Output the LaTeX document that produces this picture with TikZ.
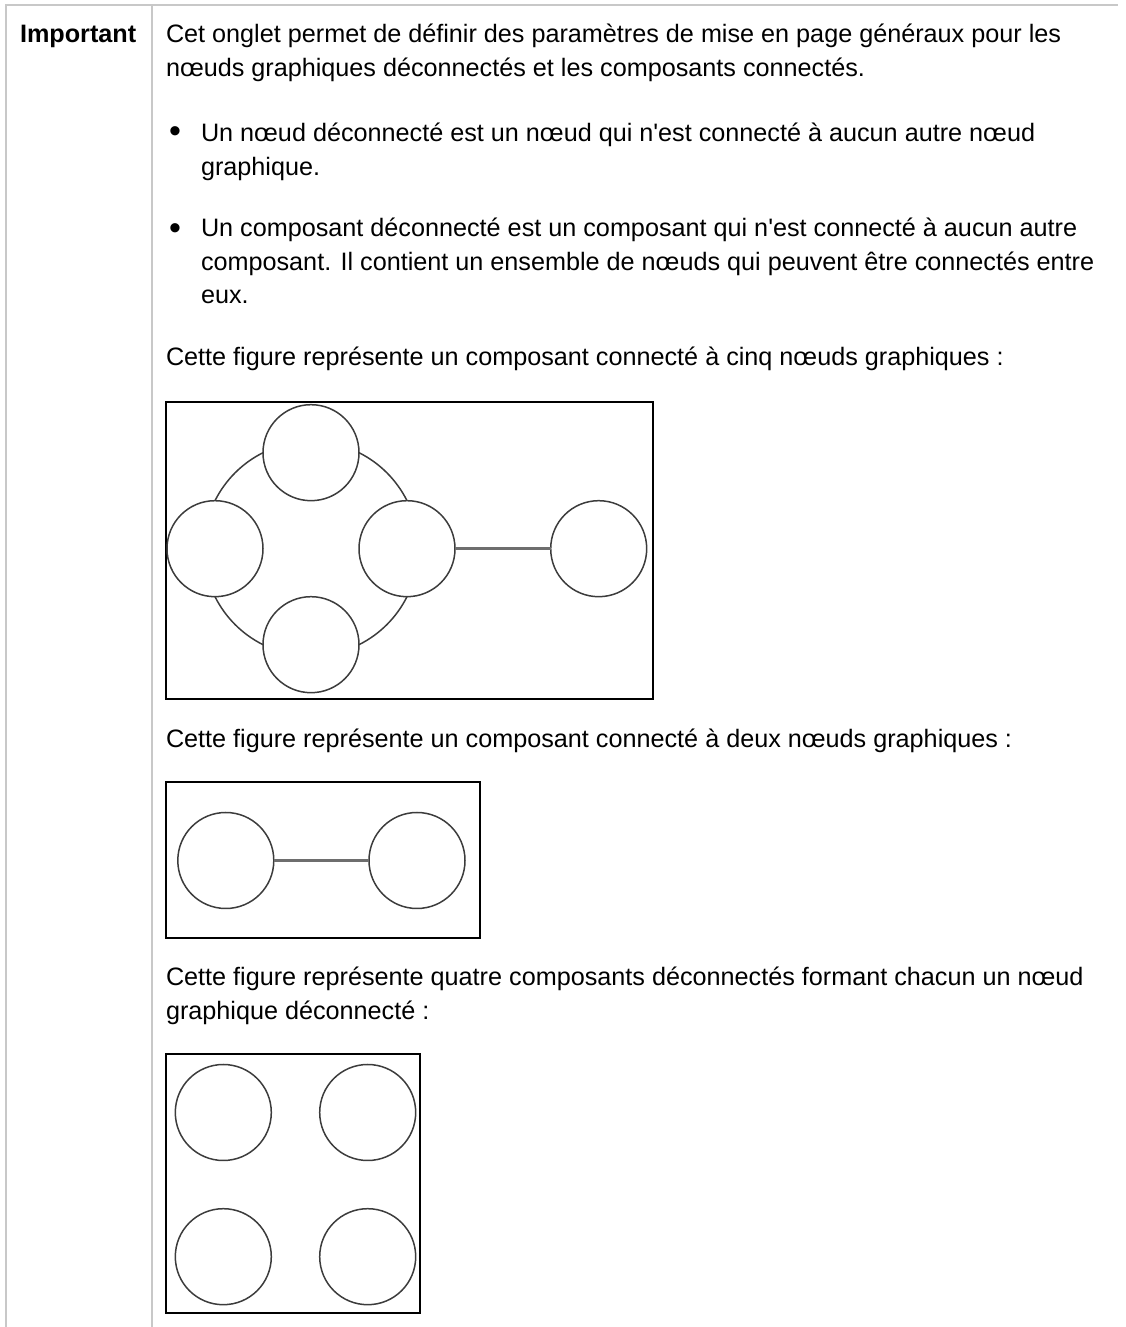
\documentclass[tikz,border=0pt]{standalone}
\usepackage{fontspec}
\setmainfont{Liberation Sans}[Ligatures=TeXOff]
\definecolor{tblgray}{RGB}{200,200,200}
\definecolor{circgray}{RGB}{60,60,60}
\definecolor{linkgray}{RGB}{110,110,110}
\begin{document}
\begin{tikzpicture}[x=1pt,y=1pt,
  txt/.style={anchor=base west,inner sep=0pt,outer sep=0pt,font=\fontsize{25.2}{33}\selectfont},
  bul/.style={anchor=center,inner sep=0pt,outer sep=0pt,font=\fontsize{34}{34}\selectfont},
  gnode/.style={circle,draw=circgray,line width=1.5pt,minimum size=96pt,inner sep=0pt,outer sep=0pt},
  figbox/.style={draw=black,line width=1.8pt},
  tline/.style={draw=tblgray,line width=2pt},
  ring/.style={draw=circgray,line width=1.5pt},
  link/.style={draw=linkgray,line width=2.4pt}]
\useasboundingbox (0,0) rectangle (1125,1327);
% table rules
\coordinate (tl) at (5,1322);
\coordinate (tr) at (1118,1322);
\coordinate (lt) at (6,1322);
\coordinate (lb) at (6,0);
\coordinate (dt) at (152,1322);
\coordinate (db) at (152,0);
\draw[tline] (tl) -- (tr);
\draw[tline] (lt) -- (lb);
\draw[tline] (dt) -- (db);
% header cell
\node[txt,font=\fontsize{25.2}{33}\selectfont\bfseries] (imp) at (20,1284) {Important};
% text
\node[txt] (l1) at (166,1284) {Cet onglet permet de définir des paramètres de mise en page généraux pour les};
\node[txt] (l2) at (166,1250) {nœuds graphiques déconnectés et les composants connectés.};
\node[bul] (b1) at (175,1192) {•};
\node[txt] (l3) at (201,1185) {Un nœud déconnecté est un nœud qui n'est connecté à aucun autre nœud};
\node[txt] (l4) at (201,1151.5) {graphique.};
\node[bul] (b2) at (175,1095.3) {•};
\node[txt] (l5) at (201,1090) {Un composant déconnecté est un composant qui n'est connecté à aucun autre};
\node[txt] (l6) at (201,1056.5) {composant. Il contient un ensemble de nœuds qui peuvent être connectés entre};
\node[txt] (l7) at (201,1023) {eux.};
\node[txt] (l8) at (166,961) {Cette figure représente un composant connecté à cinq nœuds graphiques :};
\node[txt] (l9) at (166,579) {Cette figure représente un composant connecté à deux nœuds graphiques :};
\node[txt] (l10) at (166,341) {Cette figure représente quatre composants déconnectés formant chacun un nœud};
\node[txt] (l11) at (166,307) {graphique déconnecté :};
% figure 1
\draw[figbox] (166,925) rectangle (653,628);
\node[gnode] (T) at (311,874.3) {};
\node[gnode] (L) at (215,778.3) {};
\node[gnode] (R) at (407,778.3) {};
\node[gnode] (B) at (311,682.3) {};
\node[gnode] (F) at (598.7,778.3) {};
\draw[ring] (L.north) arc[start angle=153.43,end angle=116.57,radius=107.33];
\draw[ring] (T.east) arc[start angle=63.43,end angle=26.57,radius=107.33];
\draw[ring] (R.south) arc[start angle=-26.57,end angle=-63.43,radius=107.33];
\draw[ring] (B.west) arc[start angle=243.43,end angle=206.57,radius=107.33];
\draw[link] (R) -- (F);
% figure 2
\draw[figbox] (166,545) rectangle (480,389.3);
\node[gnode] (P) at (225.8,466.5) {};
\node[gnode] (Q) at (417,466.5) {};
\draw[link] (P) -- (Q);
% figure 3
\draw[figbox] (166,273) rectangle (420,13.7);
\node[gnode] (n1) at (223.3,214.5) {};
\node[gnode] (n2) at (367.7,214.5) {};
\node[gnode] (n3) at (223.3,70.3) {};
\node[gnode] (n4) at (367.7,70.3) {};
\end{tikzpicture}
\end{document}
